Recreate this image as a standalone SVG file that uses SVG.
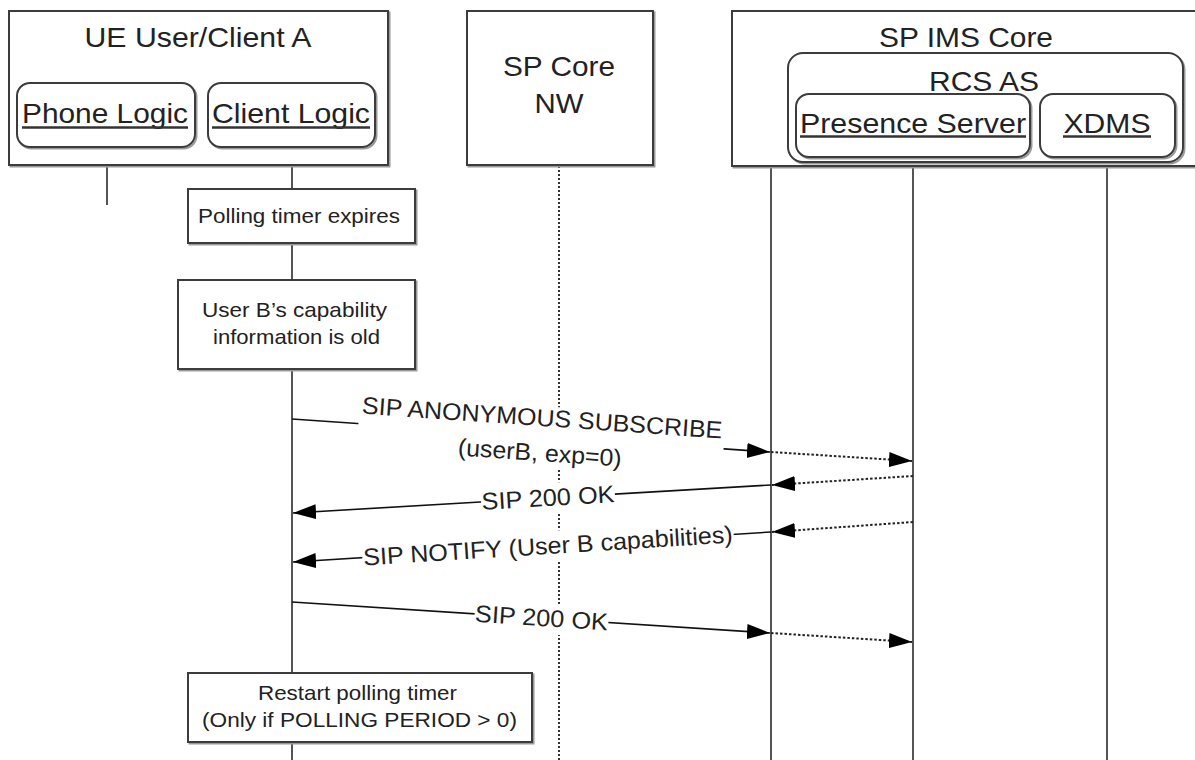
<svg xmlns="http://www.w3.org/2000/svg" width="1195" height="760" viewBox="0 0 1195 760">
<style>
  text { font-family: "Liberation Sans", Arial, sans-serif; fill: #222; }
  .box { fill: #fff; stroke: #3c3c3c; stroke-width: 2; }
  .shadow { fill: none; stroke: #9a9a9a; stroke-width: 2; }
  .hdr { font-size: 28px; text-anchor: middle; }
  .note { font-size: 21px; text-anchor: middle; }
  .msg { font-size: 24px; text-anchor: middle; }
  .ul { stroke: #333; stroke-width: 2.5; }
  .life { stroke: #555; stroke-width: 2; fill: none; }
  .dotlife { stroke: #333; stroke-width: 2; stroke-dasharray: 2 2; fill: none; }
  .m { stroke: #111; stroke-width: 1.6; fill: none; }
  .d { stroke: #222; stroke-width: 2; stroke-dasharray: 2.5 2; fill: none; }
  .bg { fill: #fff; }
</style>
<defs>
  <marker id="ah" markerUnits="userSpaceOnUse" markerWidth="24" markerHeight="16" refX="23" refY="7.5" orient="auto">
    <path d="M0,0 L23,7.5 L0,15 z" fill="#000"/>
  </marker>
</defs>

<!-- lifelines -->
<g id="lifelines">
  <line class="life" x1="107" y1="147" x2="107" y2="205"/>
  <line class="life" x1="292" y1="147" x2="292" y2="760"/>
  <line class="dotlife" x1="559" y1="166" x2="559" y2="760"/>
  <line class="life" x1="771" y1="166" x2="771" y2="760"/>
  <line class="life" x1="913" y1="157" x2="913" y2="760"/>
  <line class="life" x1="1107" y1="157" x2="1107" y2="760"/>
</g>

<g id="ue">
  <rect class="shadow" x="10.5" y="12.5" width="379" height="154"/>
  <rect class="box" x="9" y="11" width="379" height="154"/>
  <text class="hdr" x="198" y="46.5" textLength="227" lengthAdjust="spacingAndGlyphs">UE User/Client A</text>
</g>
<g id="phone-logic">
  <rect class="shadow" x="18.5" y="84.5" width="178" height="64" rx="13"/>
  <rect class="box" x="17" y="83" width="178" height="64" rx="13"/>
  <text class="hdr" x="105" y="123" textLength="166" lengthAdjust="spacingAndGlyphs">Phone Logic</text>
  <line class="ul" x1="22" y1="127.5" x2="188" y2="127.5"/>
</g>
<g id="client-logic">
  <rect class="shadow" x="209.5" y="84.5" width="167" height="64" rx="13"/>
  <rect class="box" x="208" y="83" width="167" height="64" rx="13"/>
  <text class="hdr" x="291" y="123" textLength="158" lengthAdjust="spacingAndGlyphs">Client Logic</text>
  <line class="ul" x1="212" y1="127.5" x2="370" y2="127.5"/>
</g>

<g id="sp-core-nw">
  <rect class="shadow" x="468.5" y="12.5" width="186" height="154"/>
  <rect class="box" x="467" y="11" width="186" height="154"/>
  <text class="hdr" x="559" y="76" textLength="112" lengthAdjust="spacingAndGlyphs">SP Core</text>
  <text class="hdr" x="559" y="113" textLength="49" lengthAdjust="spacingAndGlyphs">NW</text>
</g>

<g id="sp-ims-core">
  <rect class="shadow" x="733.5" y="12.5" width="500" height="155"/>
  <rect class="box" x="732" y="11" width="500" height="155"/>
  <text class="hdr" x="966" y="46.5" textLength="174" lengthAdjust="spacingAndGlyphs">SP IMS Core</text>
</g>
<g id="rcs-as">
  <rect class="shadow" x="789.5" y="54.5" width="395" height="109" rx="15"/>
  <rect class="box" x="788" y="53" width="395" height="109" rx="15"/>
  <text class="hdr" x="984" y="90.5" textLength="110" lengthAdjust="spacingAndGlyphs">RCS AS</text>
</g>
<g id="presence-server">
  <rect class="shadow" x="797.5" y="95.5" width="234" height="63" rx="13"/>
  <rect class="box" x="796" y="94" width="234" height="63" rx="13"/>
  <text class="hdr" x="913" y="132.5" textLength="226" lengthAdjust="spacingAndGlyphs">Presence Server</text>
  <line class="ul" x1="800" y1="136.5" x2="1026" y2="136.5"/>
</g>
<g id="xdms">
  <rect class="shadow" x="1041.5" y="95.5" width="135" height="63" rx="13"/>
  <rect class="box" x="1040" y="94" width="135" height="63" rx="13"/>
  <text class="hdr" x="1107" y="132.5" textLength="87" lengthAdjust="spacingAndGlyphs">XDMS</text>
  <line class="ul" x1="1063" y1="136.5" x2="1151" y2="136.5"/>
</g>

<g id="note-polling">
  <rect class="shadow" x="189.5" y="190.5" width="227" height="54"/>
  <rect class="box" x="188" y="189" width="227" height="54"/>
  <text class="note" x="299" y="223" textLength="202" lengthAdjust="spacingAndGlyphs">Polling timer expires</text>
</g>
<g id="note-old">
  <rect class="shadow" x="179.5" y="281.5" width="237" height="89"/>
  <rect class="box" x="178" y="280" width="237" height="89"/>
  <text class="note" x="294.5" y="316.5" textLength="185" lengthAdjust="spacingAndGlyphs">User B’s capability</text>
  <text class="note" x="296.5" y="343.5" textLength="167" lengthAdjust="spacingAndGlyphs">information is old</text>
</g>
<g id="note-restart">
  <rect class="shadow" x="189.5" y="674.5" width="344" height="69"/>
  <rect class="box" x="188" y="673" width="344" height="69"/>
  <text class="note" x="357.5" y="700" textLength="199" lengthAdjust="spacingAndGlyphs">Restart polling timer</text>
  <text class="note" x="359.5" y="727" textLength="315" lengthAdjust="spacingAndGlyphs">(Only if POLLING PERIOD &gt; 0)</text>
</g>

<g id="connectors">
  <!-- 1 SUBSCRIBE -->
  <line class="m" x1="292" y1="419" x2="770" y2="452" marker-end="url(#ah)"/>
  <line class="d" x1="771" y1="452" x2="912" y2="461" marker-end="url(#ah)"/>
  <g transform="translate(541,436) rotate(3.94)">
    <rect class="bg" x="-183" y="-30" width="366" height="62"/>
    <text class="msg" x="0" y="-10" textLength="361" lengthAdjust="spacingAndGlyphs">SIP ANONYMOUS SUBSCRIBE</text>
    <text class="msg" x="0" y="25" textLength="164" lengthAdjust="spacingAndGlyphs">(userB, exp=0)</text>
  </g>
  <!-- 2 200 OK -->
  <line class="d" x1="913" y1="476" x2="772" y2="485" marker-end="url(#ah)"/>
  <line class="m" x1="771" y1="485" x2="293" y2="513" marker-end="url(#ah)"/>
  <g transform="translate(548,498) rotate(-3.35)">
    <rect class="bg" x="-67" y="-15" width="134" height="31"/>
    <text class="msg" x="0" y="8" textLength="133" lengthAdjust="spacingAndGlyphs">SIP 200 OK</text>
  </g>
  <!-- 3 NOTIFY -->
  <line class="d" x1="913" y1="522" x2="772" y2="532" marker-end="url(#ah)"/>
  <line class="m" x1="771" y1="532" x2="293" y2="562" marker-end="url(#ah)"/>
  <g transform="translate(548,546) rotate(-3.58)">
    <rect class="bg" x="-186" y="-15" width="372" height="31"/>
    <text class="msg" x="0" y="8" textLength="370" lengthAdjust="spacingAndGlyphs">SIP NOTIFY (User B capabilities)</text>
  </g>
  <!-- 4 200 OK -->
  <line class="m" x1="292" y1="602" x2="770" y2="633" marker-end="url(#ah)"/>
  <line class="d" x1="771" y1="633" x2="912" y2="642" marker-end="url(#ah)"/>
  <g transform="translate(541.5,618) rotate(3.7)">
    <rect class="bg" x="-67" y="-15" width="134" height="31"/>
    <text class="msg" x="0" y="8" textLength="133" lengthAdjust="spacingAndGlyphs">SIP 200 OK</text>
  </g>
</g>
</svg>
